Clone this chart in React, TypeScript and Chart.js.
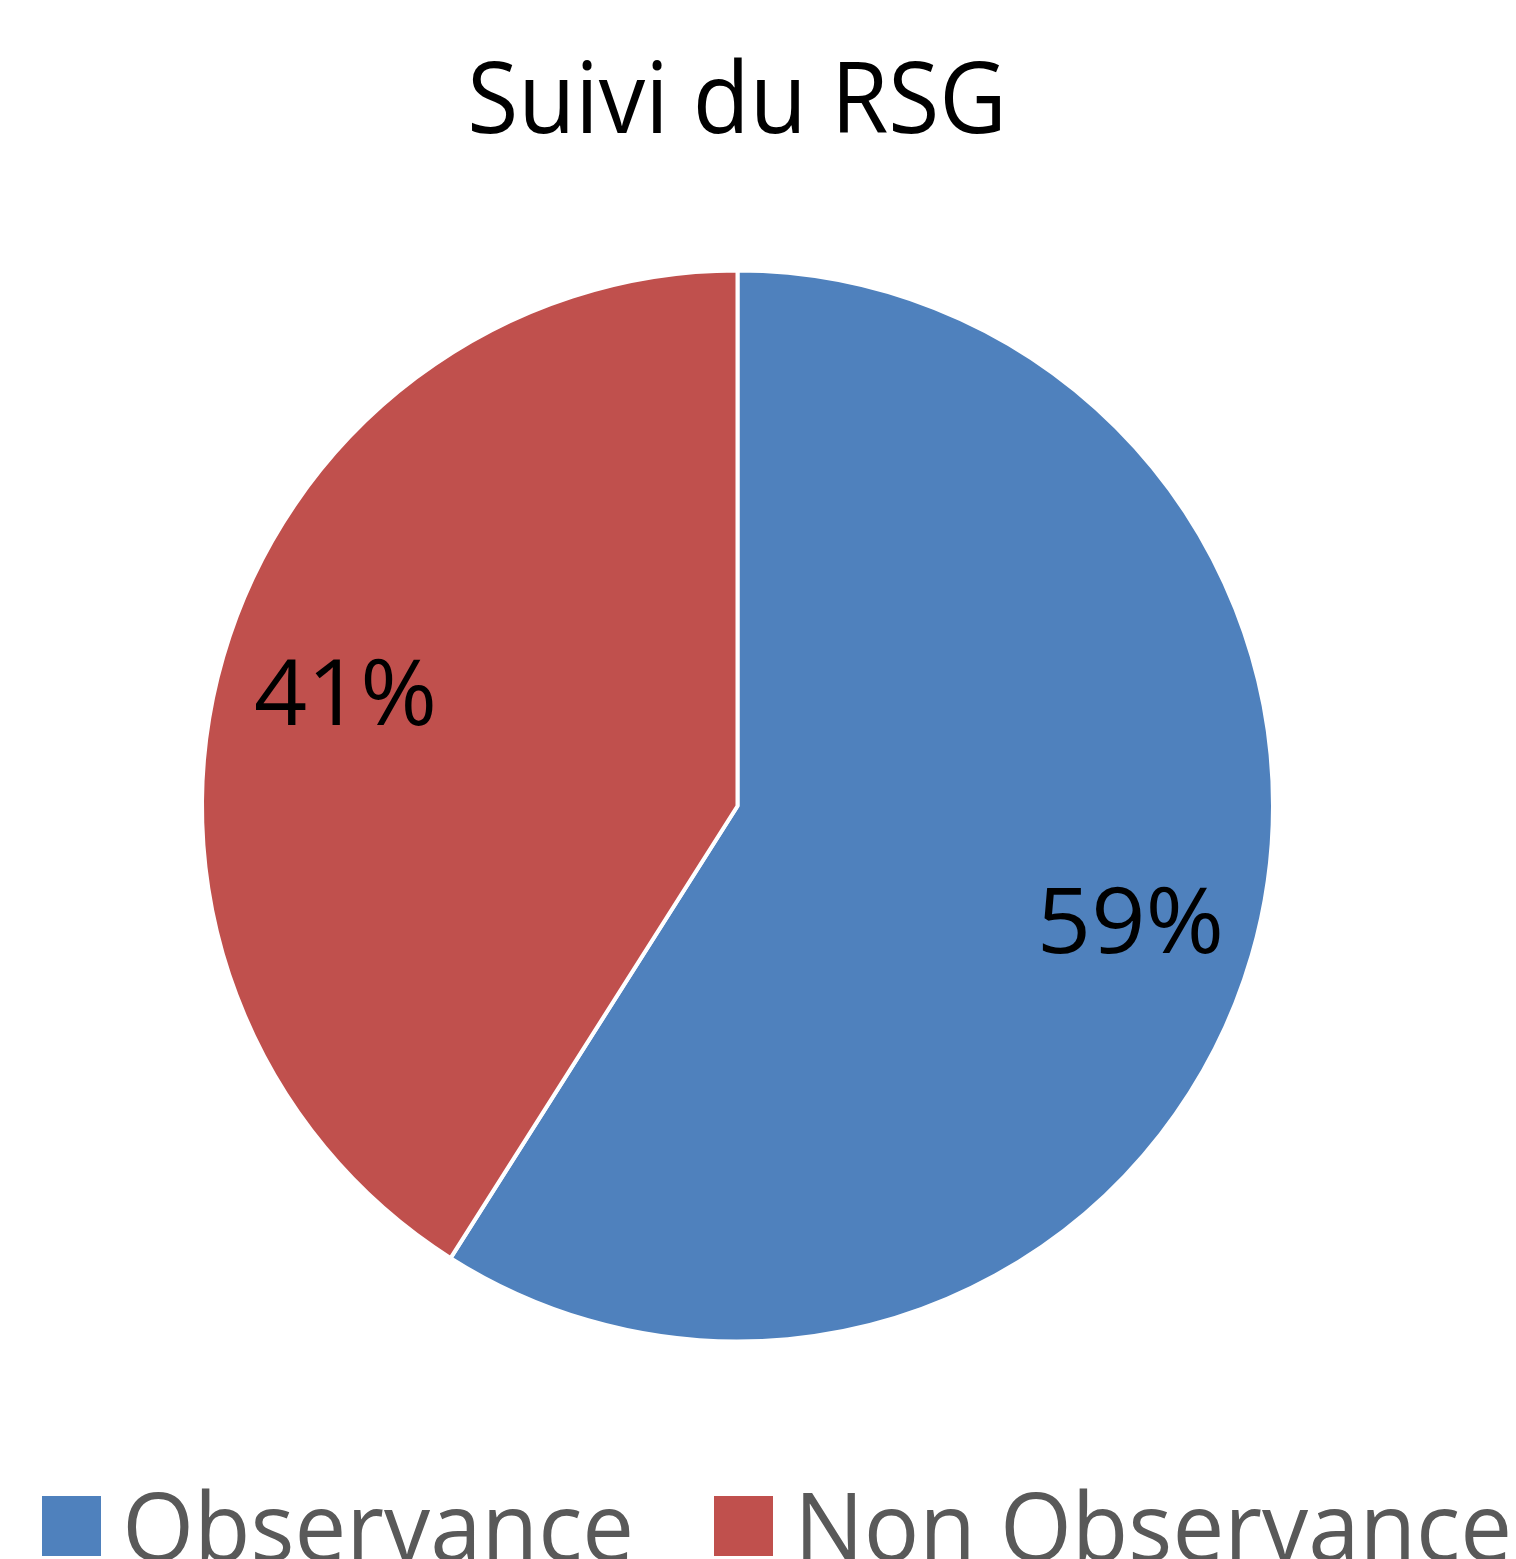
import React, { useEffect, useRef } from "react";
import { Chart, registerables } from "chart.js";

Chart.register(...registerables);

const TITLE = "Suivi du RSG";
const categories = ["Observance", "Non Observance"];
const values = [59, 41];
const percentLabels = ["59%", "41%"];
const colors = ["#4F81BD", "#C0504D"];

const FONT = '"Open Sans", "Liberation Sans", sans-serif';

function drawInk(
  ctx: CanvasRenderingContext2D,
  text: string,
  x0: number,
  x1: number,
  baseline: number,
  size: number,
  color: string
) {
  ctx.save();
  ctx.font = `${size}px ${FONT}`;
  ctx.textAlign = "left";
  ctx.textBaseline = "alphabetic";
  ctx.fillStyle = color;
  const m = ctx.measureText(text);
  const inkW = m.actualBoundingBoxLeft + m.actualBoundingBoxRight;
  const sx = (x1 - x0) / inkW;
  ctx.translate(x0 + m.actualBoundingBoxLeft * sx, baseline);
  ctx.scale(sx, 1);
  ctx.fillText(text, 0, 0);
  ctx.restore();
}

const decorPlugin = {
  id: "decor",
  afterDatasetsDraw(chart: any) {
    const ctx: CanvasRenderingContext2D = chart.ctx;
    // title
    drawInk(ctx, TITLE, 472, 1000, 133, 98, "#000000");
    // data labels
    const meta = chart.getDatasetMeta(0);
    meta.data.forEach((arc: any, i: number) => {
      const p = arc.getProps(["x", "y", "startAngle", "endAngle", "outerRadius"], true);
      const mid = (p.startAngle + p.endAngle) / 2;
      const r = (p.outerRadius - 2) * 0.768;
      const cx = p.x + Math.cos(mid) * r;
      const cy = p.y + Math.sin(mid) * r;
      ctx.save();
      ctx.font = `92px ${FONT}`;
      const m = ctx.measureText(percentLabels[i]);
      ctx.restore();
      const baseline = cy + (m.actualBoundingBoxAscent - m.actualBoundingBoxDescent) / 2;
      drawInk(ctx, percentLabels[i], cx - 89, cx + 89, baseline, 92, "#000000");
    });
    // legend
    const boxes = [42, 714];
    const textStart = [127, 803];
    const textEnd = [630, 1508];
    categories.forEach((c, i) => {
      ctx.save();
      ctx.fillStyle = colors[i];
      ctx.fillRect(boxes[i], 1496, 59, 60);
      ctx.restore();
      drawInk(ctx, c, textStart[i], textEnd[i], 1561, 95, "#595959");
    });
  },
};

export default function App() {
  const ref = useRef<HTMLCanvasElement | null>(null);
  useEffect(() => {
    if (!ref.current) return;
    const chart = new Chart(ref.current, {
      type: "pie",
      data: {
        labels: categories,
        datasets: [
          {
            data: values,
            backgroundColor: colors,
            borderColor: "#FFFFFF",
            borderWidth: 4,
          },
        ],
      },
      options: {
        responsive: false,
        animation: false,
        devicePixelRatio: 1,
        layout: {
          padding: { left: 200, top: 268.5, right: 241, bottom: 215.5 },
        },
        plugins: {
          legend: { display: false },
          title: { display: false },
          tooltip: { enabled: false },
        },
      },
      plugins: [decorPlugin],
    });
    return () => chart.destroy();
  }, []);
  return (
    <div style={{ position: "absolute", left: 0, top: 0, width: 1516, height: 1559, background: "#fff", overflow: "hidden" }}>
      <canvas ref={ref} width={1516} height={1559} style={{ display: "block" }} />
    </div>
  );
}
